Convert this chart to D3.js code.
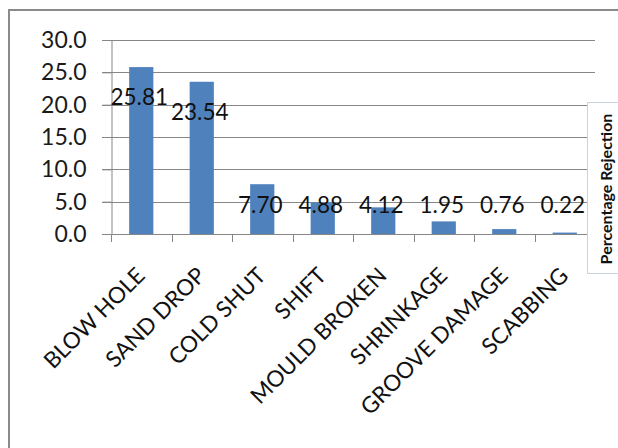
<!DOCTYPE html>
<html><head><meta charset="utf-8">
<script src="https://cdn.jsdelivr.net/npm/d3@7"></script>
<style>
body{margin:0;background:#fff;}
svg{display:block;font-family:Lato, "Open Sans", sans-serif;}
</style>
</head><body>
<svg id="c" width="618" height="448"></svg>
<script>
const categories = ["BLOW HOLE","SAND DROP","COLD SHUT","SHIFT","MOULD BROKEN","SHRINKAGE","GROOVE DAMAGE","SCABBING"];
const values = [25.81, 23.54, 7.70, 4.88, 4.12, 1.95, 0.76, 0.22];
const yTicks = [0, 5, 10, 15, 20, 25, 30];
const seriesName = "Percentage Rejection";

const svg = d3.select("#c");
const pLeft = 111, pRight = 595, pTop = 40, pBottom = 234;

const x = d3.scaleBand().domain(categories).range([pLeft, pRight]).paddingInner(0.6).paddingOuter(0.3);
const y = d3.scaleLinear().domain([0, 30]).range([pBottom, pTop]);

// outer chart border (only top and left visible)
svg.append("path").attr("d", "M9,448 V10 H618").attr("fill", "none").attr("stroke", "#8a8a8a").attr("stroke-width", 2);

// gridlines
svg.append("g").selectAll("line").data(yTicks).join("line")
  .attr("x1", pLeft - 9).attr("x2", pRight)
  .attr("y1", d => Math.round(y(d)) + 0.5).attr("y2", d => Math.round(y(d)) + 0.5)
  .attr("stroke", "#878787").attr("stroke-width", 1);

// y axis
const yAxis = svg.append("g").attr("transform", `translate(${pLeft + 0.5},0)`)
  .call(d3.axisLeft(y).tickValues(yTicks).tickFormat(d3.format(".1f")).tickSize(9).tickPadding(16));
yAxis.select(".domain").attr("stroke", "#878787");
yAxis.selectAll(".tick line").attr("stroke", "#878787");
yAxis.selectAll("text").attr("font-size", 23).attr("fill", "#1a1a1a").attr("font-family", "Lato");

// bars
svg.append("g").selectAll("rect").data(values).join("rect")
  .attr("x", (d, i) => x(categories[i]))
  .attr("width", x.bandwidth())
  .attr("y", d => y(d))
  .attr("height", d => y(0) - y(d))
  .attr("fill", "#4f81bd");

// x axis tick marks at category boundaries
const step = x.step();
const bounds = d3.range(categories.length + 1).map(i => pLeft + i * step);
svg.append("g").selectAll("line").data(bounds).join("line")
  .attr("x1", d => Math.round(d) + 0.5).attr("x2", d => Math.round(d) + 0.5)
  .attr("y1", pBottom).attr("y2", pBottom + 8)
  .attr("stroke", "#878787");
svg.append("line").attr("x1", pLeft).attr("x2", pRight)
  .attr("y1", Math.round(y(0)) + 0.5).attr("y2", Math.round(y(0)) + 0.5)
  .attr("stroke", "#878787");

// category labels
svg.append("g").selectAll("text").data(categories).join("text")
  .attr("transform", d => `translate(${x(d) + x.bandwidth() / 2 + 5},${pBottom + 43}) rotate(-45)`)
  .attr("text-anchor", "end")
  .attr("font-size", 22.5)
  .attr("fill", "#111")
  .text(d => d);

// value labels
svg.append("g").selectAll("text").data(values).join("text")
  .attr("x", (d, i) => x(categories[i]) + x.bandwidth() / 2 - 2)
  .attr("y", d => Math.min(y(d) + 38, y(3.25)))
  .attr("text-anchor", "middle")
  .attr("font-size", 22.5)
  .attr("fill", "#111")
  .text(d => d.toFixed(2));

// legend box
svg.append("rect").attr("x", 587.5).attr("y", 102.5).attr("width", 40).attr("height", 171)
  .attr("fill", "#fff").attr("stroke", "#c9d3e0");
svg.append("text")
  .attr("transform", `translate(612,189) rotate(-90)`)
  .attr("text-anchor", "middle")
  .attr("font-size", 16).attr("font-weight", "bold")
  .attr("fill", "#111")
  .text(seriesName);
</script>
</body></html>
